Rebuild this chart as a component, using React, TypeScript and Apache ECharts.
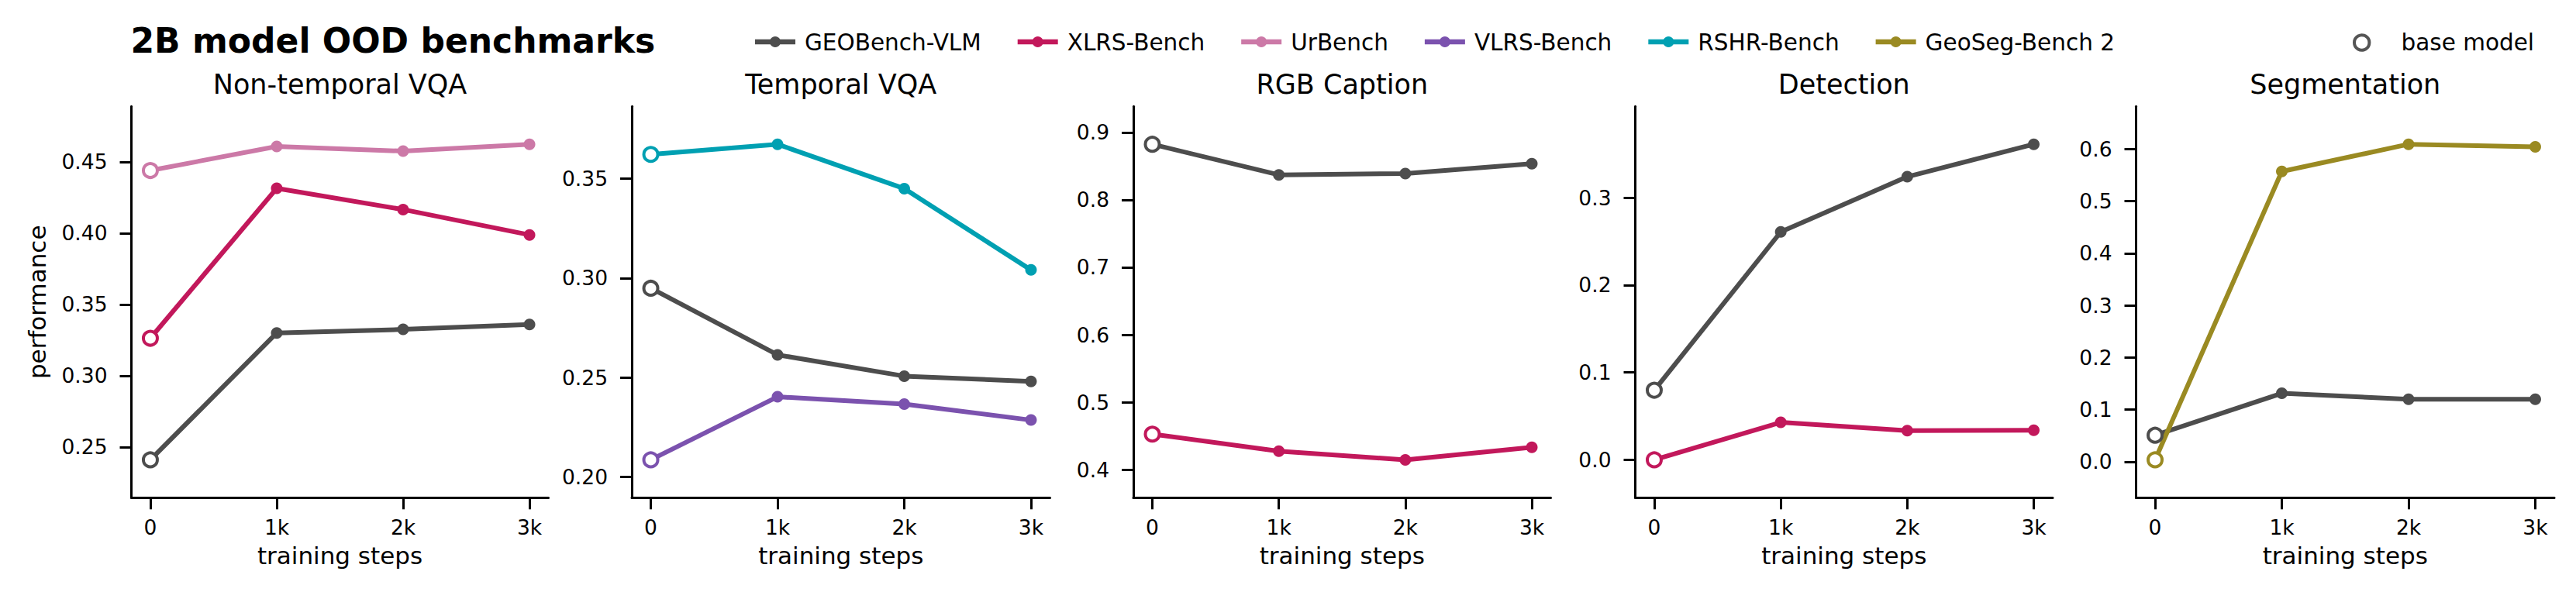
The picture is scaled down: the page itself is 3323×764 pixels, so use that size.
import React, { useEffect, useRef } from 'react';
import * as echarts from 'echarts';

const FONT = '"DejaVu Sans", "Noto Sans", sans-serif';
const WIDTH = 3323;
const HEIGHT = 764;

// x axis: training steps
const steps = [0, 1000, 2000, 3000];
const stepLabels = ['0', '1k', '2k', '3k'];

// benchmark names and colours (legend order)
const benchmarks = ['GEOBench-VLM', 'XLRS-Bench', 'UrBench', 'VLRS-Bench', 'RSHR-Bench', 'GeoSeg-Bench 2'];
const benchmarkColors = ['#4d4d4d', '#c2185b', '#cc79a7', '#7b52ae', '#00a0b2', '#9a8a22'];
const baseModelLabel = 'base model';

const panelTitles = ['Non-temporal VQA', 'Temporal VQA', 'RGB Caption', 'Detection', 'Segmentation'];

// Non-temporal VQA
const nonTemporalGeoBench = [0.241, 0.330, 0.3325, 0.336];
const nonTemporalXlrs = [0.3263, 0.4315, 0.4166, 0.3988];
const nonTemporalUrBench = [0.444, 0.4609, 0.4576, 0.4624];
const nonTemporalTicks = [0.25, 0.30, 0.35, 0.40, 0.45];

// Temporal VQA
const temporalGeoBench = [0.2949, 0.2614, 0.2507, 0.248];
const temporalVlrs = [0.2086, 0.2403, 0.2366, 0.2286];
const temporalRshr = [0.3622, 0.3673, 0.345, 0.3041];
const temporalTicks = [0.20, 0.25, 0.30, 0.35];

// RGB Caption
const captionGeoBench = [0.8824, 0.837, 0.839, 0.8536];
const captionXlrs = [0.4527, 0.4274, 0.4146, 0.4332];
const captionTicks = [0.4, 0.5, 0.6, 0.7, 0.8, 0.9];

// Detection
const detectionGeoBench = [0.0797, 0.2609, 0.324, 0.3612];
const detectionXlrs = [0.0, 0.0429, 0.0334, 0.0338];
const detectionTicks = [0.0, 0.1, 0.2, 0.3];

// Segmentation
const segmentationGeoBench = [0.051, 0.1315, 0.1202, 0.1202];
const segmentationGeoSeg = [0.0038, 0.5573, 0.6094, 0.6045];
const segmentationTicks = [0.0, 0.1, 0.2, 0.3, 0.4, 0.5, 0.6];

type PanelLine = { bench: number; values: number[] };
type Panel = { title: string; lines: PanelLine[]; ticks: number[]; decimals: number };

const panels: Panel[] = [
  {
    title: panelTitles[0],
    lines: [
      { bench: 0, values: nonTemporalGeoBench },
      { bench: 1, values: nonTemporalXlrs },
      { bench: 2, values: nonTemporalUrBench },
    ],
    ticks: nonTemporalTicks,
    decimals: 2,
  },
  {
    title: panelTitles[1],
    lines: [
      { bench: 0, values: temporalGeoBench },
      { bench: 3, values: temporalVlrs },
      { bench: 4, values: temporalRshr },
    ],
    ticks: temporalTicks,
    decimals: 2,
  },
  {
    title: panelTitles[2],
    lines: [
      { bench: 0, values: captionGeoBench },
      { bench: 1, values: captionXlrs },
    ],
    ticks: captionTicks,
    decimals: 1,
  },
  {
    title: panelTitles[3],
    lines: [
      { bench: 0, values: detectionGeoBench },
      { bench: 1, values: detectionXlrs },
    ],
    ticks: detectionTicks,
    decimals: 1,
  },
  {
    title: panelTitles[4],
    lines: [
      { bench: 0, values: segmentationGeoBench },
      { bench: 5, values: segmentationGeoSeg },
    ],
    ticks: segmentationTicks,
    decimals: 1,
  },
];

// layout (px)
const gridLefts = [169.5, 815, 1462, 2109.5, 2755.5];
const gridWidths = [538, 539.5, 538.5, 538.5, 539.5];
const gridTop = 137.3;
const gridHeight = 505;
const yMargin = 0.12;
const xPad = 150;

const LINE_W = 6;
const DOT = 15;
const RING = 18;
const AXIS_W = 3;

function buildOption(): echarts.EChartsOption {
  const grid: any[] = [];
  const xAxis: any[] = [];
  const yAxis: any[] = [];
  const series: any[] = [];
  const graphic: any[] = [];

  const axisLine = { show: true, onZero: false, lineStyle: { color: '#000', width: AXIS_W } };
  const axisTickBase = { show: true, length: 15, lineStyle: { color: '#000', width: AXIS_W } };

  panels.forEach((p, i) => {
    grid.push({
      left: gridLefts[i],
      top: gridTop,
      width: gridWidths[i],
      height: gridHeight,
      containLabel: false,
      outerBoundsMode: 'none',
    });

    const all = p.lines.flatMap((l) => l.values);
    const lo = Math.min(...all);
    const hi = Math.max(...all);
    const span = hi - lo;

    xAxis.push({
      type: 'value',
      gridIndex: i,
      min: steps[0] - xPad,
      max: steps[steps.length - 1] + xPad,
      axisLine,
      axisTick: { ...axisTickBase, customValues: steps },
      axisLabel: {
        customValues: steps,
        margin: 25,
        color: '#000',
        fontSize: 26.5,
        fontFamily: FONT,
        formatter: (v: number) => {
          const k = steps.indexOf(v);
          return k >= 0 ? stepLabels[k] : '';
        },
      },
      splitLine: { show: false },
      name: 'training steps',
      nameLocation: 'middle',
      nameGap: 59,
      nameTextStyle: { color: '#000', fontSize: 31, fontFamily: FONT },
    });

    yAxis.push({
      type: 'value',
      gridIndex: i,
      min: lo - span * yMargin,
      max: hi + span * yMargin,
      axisLine,
      axisTick: { ...axisTickBase, customValues: p.ticks },
      axisLabel: {
        customValues: p.ticks,
        margin: 31,
        color: '#000',
        fontSize: 26.5,
        fontFamily: FONT,
        formatter: (v: number) => v.toFixed(p.decimals),
      },
      splitLine: { show: false },
      ...(i === 0
        ? {
            name: 'performance',
            nameLocation: 'middle',
            nameGap: 106,
            nameRotate: 90,
            nameTextStyle: { color: '#000', fontSize: 31, fontFamily: FONT },
          }
        : {}),
    });

    p.lines.forEach((l) => {
      const color = benchmarkColors[l.bench];
      series.push({
        type: 'line',
        name: benchmarks[l.bench],
        xAxisIndex: i,
        yAxisIndex: i,
        symbol: 'circle',
        symbolSize: DOT,
        showAllSymbol: true,
        lineStyle: { color, width: LINE_W },
        itemStyle: { color },
        emphasis: { disabled: true },
        data: steps.map((s, j) =>
          j === 0
            ? {
                value: [s, l.values[j]],
                symbolSize: RING,
                itemStyle: { color: '#ffffff', borderColor: color, borderWidth: 4 },
              }
            : { value: [s, l.values[j]] }
        ),
      });
    });

    graphic.push({
      type: 'text',
      x: gridLefts[i] + gridWidths[i] / 2,
      y: 108.7,
      style: {
        text: p.title,
        fontSize: 35,
        fontFamily: FONT,
        fill: '#000',
        align: 'center',
        verticalAlign: 'middle',
      },
    });
  });

  // figure title
  graphic.push({
    type: 'text',
    x: 168.5,
    y: 52,
    style: {
      text: '2B model OOD benchmarks',
      fontSize: 44,
      fontWeight: 'bold',
      fontFamily: FONT,
      fill: '#000',
      align: 'left',
      verticalAlign: 'middle',
    },
  });

  // legend row
  const ctx = document.createElement('canvas').getContext('2d') as CanvasRenderingContext2D;
  ctx.font = `29.5px ${FONT}`;
  const legendY = 54;
  let lx = 974;
  benchmarks.forEach((name, i) => {
    const color = benchmarkColors[i];
    graphic.push({
      type: 'line',
      shape: { x1: lx, y1: legendY, x2: lx + 52, y2: legendY },
      style: { stroke: color, lineWidth: LINE_W + 0.7 },
    });
    graphic.push({
      type: 'circle',
      shape: { cx: lx + 26, cy: legendY, r: 7 },
      style: { fill: color },
    });
    graphic.push({
      type: 'text',
      x: lx + 64,
      y: legendY + 1,
      style: {
        text: name,
        fontSize: 29.5,
        fontFamily: FONT,
        fill: '#000',
        align: 'left',
        verticalAlign: 'middle',
      },
    });
    lx += 64 + ctx.measureText(name).width + 47;
  });

  graphic.push({
    type: 'circle',
    shape: { cx: 3046.7, cy: legendY + 1, r: 9.7 },
    style: { fill: '#ffffff', stroke: '#555555', lineWidth: 4 },
  });
  graphic.push({
    type: 'text',
    x: 3097.5,
    y: legendY + 1,
    style: {
      text: baseModelLabel,
      fontSize: 29.5,
      fontFamily: FONT,
      fill: '#000',
      align: 'left',
      verticalAlign: 'middle',
    },
  });

  return {
    animation: false,
    backgroundColor: '#ffffff',
    textStyle: { fontFamily: FONT },
    grid,
    xAxis,
    yAxis,
    series,
    graphic,
  } as echarts.EChartsOption;
}

export default function App() {
  const ref = useRef<HTMLDivElement>(null);

  useEffect(() => {
    if (!ref.current) return;
    const chart = echarts.init(ref.current, undefined, { renderer: 'svg' });
    chart.setOption(buildOption());
    return () => {
      chart.dispose();
    };
  }, []);

  return (
    <div
      ref={ref}
      style={{ position: 'absolute', left: 0, top: 0, width: WIDTH, height: HEIGHT, background: '#fff' }}
    />
  );
}
